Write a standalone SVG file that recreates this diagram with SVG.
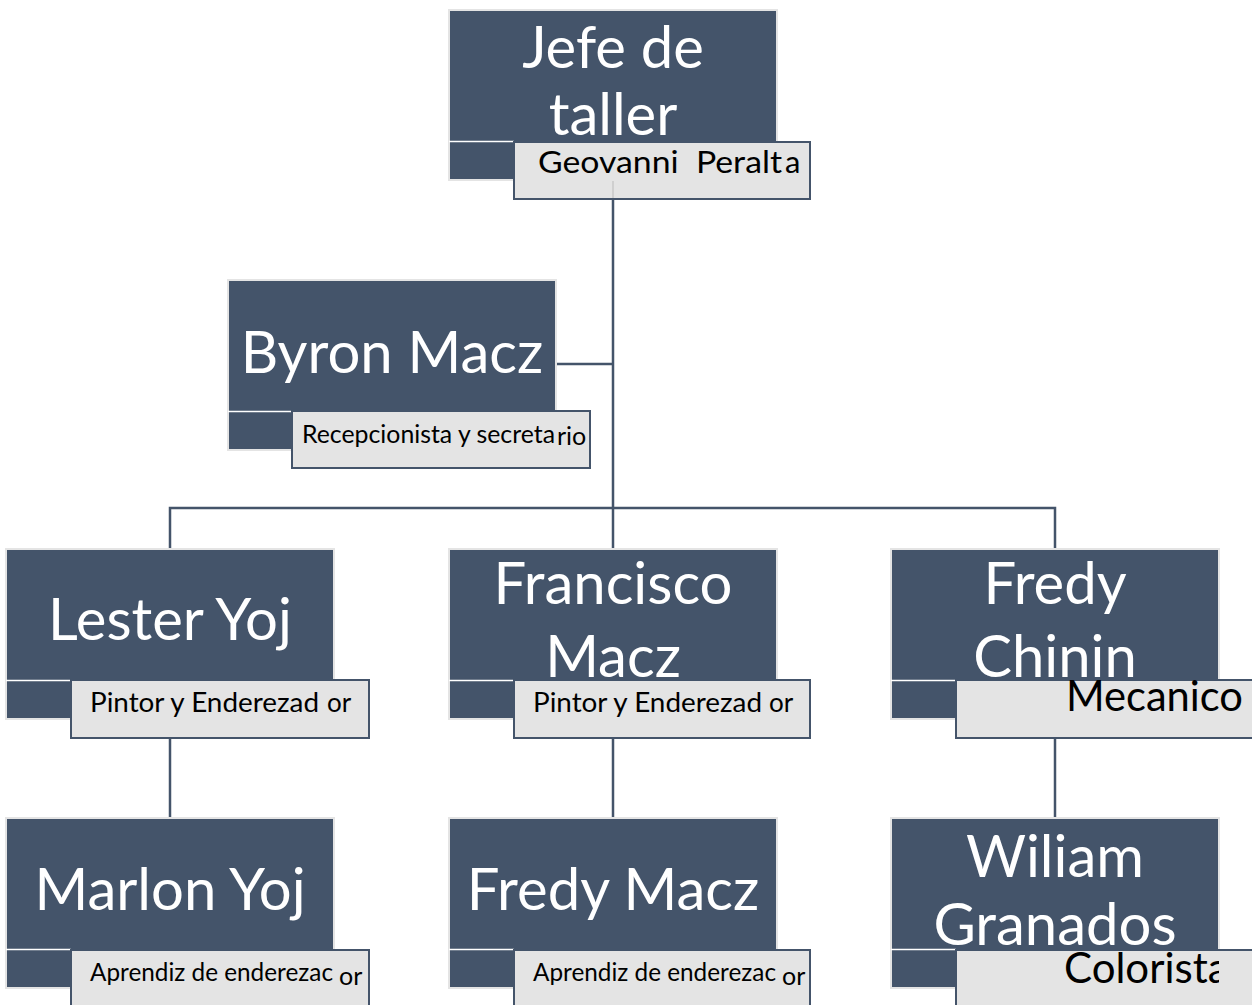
<svg xmlns="http://www.w3.org/2000/svg" width="1252" height="1005" viewBox="0 0 1252 1005">
  <style>
    .box { fill: #44546a; stroke: #e4e4e4; stroke-width: 2; }
    .tag { fill: #e4e4e4; stroke: #44546a; stroke-width: 2; }
    .sep { stroke: #ffffff; stroke-width: 1.5; }
    .name { font-family: Lato, "Liberation Sans", sans-serif; font-size: 58px; fill: #ffffff; text-anchor: middle; }
    .role { font-family: Lato, "Liberation Sans", sans-serif; font-size: 26px; fill: #000000; white-space: pre; }
    .role-lg { font-family: Lato, "Liberation Sans", sans-serif; font-size: 42px; fill: #000000; }
    .link { fill: none; stroke: #44546a; stroke-width: 2.5; }
  </style>
  <defs>
    <clipPath id="clipWiliam"><rect x="956" y="950" width="263" height="55"/></clipPath>
  </defs>
  <rect width="1252" height="1005" fill="#ffffff"/>

  <g id="connectors">
    <path class="link" d="M613 199 V508"/>
    <path class="link" d="M557 364 H613"/>
    <path class="link" d="M170 548 V508 H1055 V548"/>
    <path class="link" d="M613 508 V548"/>
    <path class="link" d="M170 738 V817"/>
    <path class="link" d="M613 738 V817"/>
    <path class="link" d="M1055 738 V817"/>
  </g>

  <g id="jefe">
    <rect class="box" x="449" y="10" width="328" height="170"/>
    <line class="sep" x1="449" y1="141.5" x2="514" y2="141.5"/>
    <text class="name" x="613" y="68">Jefe de</text>
    <text class="name" x="613" y="135">taller</text>
    <rect class="tag" x="514" y="142" width="296" height="57"/>
    <line x1="613" y1="181" x2="613" y2="198" stroke="#cfcfcf" stroke-width="2"/>
    <text class="role" x="538" y="173" style="font-size:31px" xml:space="preserve"><tspan textLength="244" lengthAdjust="spacingAndGlyphs">Geovanni  Peralt</tspan><tspan x="785">a</tspan></text>
  </g>

  <g id="byron">
    <rect class="box" x="228" y="280" width="328" height="170"/>
    <line class="sep" x1="228" y1="411.5" x2="292" y2="411.5"/>
    <text class="name" x="392" y="373">Byron Macz</text>
    <rect class="tag" x="292" y="411" width="298" height="57"/>
    <text class="role" x="302" y="443" style="font-size:25px"><tspan textLength="253" lengthAdjust="spacingAndGlyphs">Recepcionista y secreta</tspan><tspan x="557" y="445">rio</tspan></text>
  </g>

  <g id="lester">
    <rect class="box" x="6" y="549" width="328" height="170"/>
    <line class="sep" x1="6" y1="680.5" x2="71" y2="680.5"/>
    <text class="name" x="170" y="640">Lester Yoj</text>
    <rect class="tag" x="71" y="680" width="298" height="58"/>
    <text class="role" x="90" y="712"><tspan textLength="229" lengthAdjust="spacingAndGlyphs">Pintor y Enderezad</tspan><tspan x="327">or</tspan></text>
  </g>

  <g id="francisco">
    <rect class="box" x="449" y="549" width="328" height="170"/>
    <line class="sep" x1="449" y1="680.5" x2="514" y2="680.5"/>
    <text class="name" x="613" y="604">Francisco</text>
    <text class="name" x="613" y="677">Macz</text>
    <rect class="tag" x="514" y="680" width="296" height="58"/>
    <text class="role" x="533" y="712"><tspan textLength="229" lengthAdjust="spacingAndGlyphs">Pintor y Enderezad</tspan><tspan x="769">or</tspan></text>
  </g>

  <g id="fredy-chinin">
    <rect class="box" x="891" y="549" width="328" height="170"/>
    <line class="sep" x1="891" y1="680.5" x2="956" y2="680.5"/>
    <text class="name" x="1055" y="604">Fredy</text>
    <text class="name" x="1055" y="677">Chinin</text>
    <rect class="tag" x="956" y="680" width="300" height="58"/>
    <text class="role-lg" x="1066" y="711" textLength="177" lengthAdjust="spacingAndGlyphs">Mecanico</text>
  </g>

  <g id="marlon">
    <rect class="box" x="6" y="818" width="328" height="170"/>
    <line class="sep" x1="6" y1="949.5" x2="71" y2="949.5"/>
    <text class="name" x="170" y="910">Marlon Yoj</text>
    <rect class="tag" x="71" y="950" width="298" height="60"/>
    <text class="role" x="90" y="981" style="font-size:25px"><tspan textLength="243" lengthAdjust="spacingAndGlyphs">Aprendiz de enderezac</tspan><tspan x="339" y="985">or</tspan></text>
  </g>

  <g id="fredy-macz">
    <rect class="box" x="449" y="818" width="328" height="170"/>
    <line class="sep" x1="449" y1="949.5" x2="514" y2="949.5"/>
    <text class="name" x="613" y="910">Fredy Macz</text>
    <rect class="tag" x="514" y="950" width="296" height="60"/>
    <text class="role" x="533" y="981" style="font-size:25px"><tspan textLength="243" lengthAdjust="spacingAndGlyphs">Aprendiz de enderezac</tspan><tspan x="782" y="985">or</tspan></text>
  </g>

  <g id="wiliam">
    <rect class="box" x="891" y="818" width="328" height="170"/>
    <line class="sep" x1="891" y1="949.5" x2="956" y2="949.5"/>
    <text class="name" x="1055" y="877">Wiliam</text>
    <text class="name" x="1055" y="945">Granados</text>
    <rect class="tag" x="956" y="950" width="300" height="60"/>
    <text class="role-lg" x="1064" y="983" clip-path="url(#clipWiliam)">Colorista</text>
  </g>
</svg>
